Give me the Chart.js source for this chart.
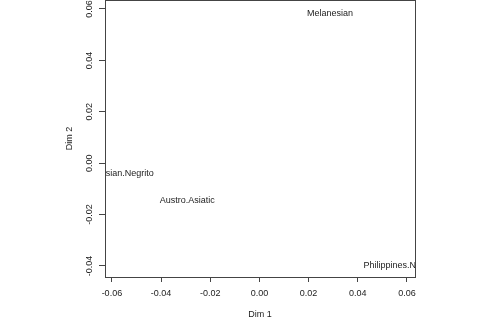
<!DOCTYPE html>
<html>
<head>
<meta charset="utf-8">
<script src="https://cdn.jsdelivr.net/npm/chart.js@4"></script>
<style>
  html, body { margin: 0; padding: 0; background: #fff; }
  #wrap { width: 480px; height: 320px; }
</style>
</head>
<body>
<div id="wrap"><canvas id="mds"></canvas></div>
<script>
// group names and their coordinates on the two dimensions
const groups = ['Melanesian', 'Malaysian.Negrito', 'Austro.Asiatic', 'Philippines.Negrito'];
const dim1 = [0.0287, -0.0576, -0.0293, 0.0576];
const dim2 = [0.0584, -0.0042, -0.0146, -0.0400];

// tick positions
const xTicks = [-0.06, -0.04, -0.02, 0.00, 0.02, 0.04, 0.06];
const yTicks = [-0.04, -0.02, 0.00, 0.02, 0.04, 0.06];

const ink = '#222';
const fontFam = '"Liberation Sans", Arial, sans-serif';

// write each group name centred on its point, clipped to the plot box
const textLabels = {
    id: 'textLabels',
    afterDatasetsDraw(chart) {
        const {ctx, chartArea, scales} = chart;
        ctx.save();
        ctx.beginPath();
        ctx.rect(chartArea.left, chartArea.top, chartArea.right - chartArea.left, chartArea.bottom - chartArea.top);
        ctx.clip();
        ctx.fillStyle = ink;
        ctx.font = '9px ' + fontFam;
        ctx.textAlign = 'center';
        ctx.textBaseline = 'middle';
        groups.forEach((g, i) => {
            ctx.fillText(g, scales.x.getPixelForValue(dim1[i]), scales.y.getPixelForValue(dim2[i]));
        });
        ctx.restore();
    }
};

// box around the plot region
const plotBox = {
    id: 'plotBox',
    afterDraw(chart) {
        const {ctx, chartArea} = chart;
        ctx.save();
        ctx.strokeStyle = '#444';
        ctx.lineWidth = 1;
        ctx.strokeRect(Math.round(chartArea.left) + 0.5, Math.round(chartArea.top) + 0.5,
            Math.round(chartArea.right - chartArea.left), Math.round(chartArea.bottom - chartArea.top));
        ctx.restore();
    }
};

const ctx = document.getElementById('mds').getContext('2d');
const chart = new Chart(ctx, {
    type: 'scatter',
    data: {
        datasets: [{
            data: dim1.map((v, i) => ({x: v, y: dim2[i]})),
            pointRadius: 0,
            pointHoverRadius: 0
        }]
    },
    options: {
        responsive: true,
        maintainAspectRatio: false,
        animation: false,
        events: [],
        layout: {padding: {left: 0, right: 65, top: 0, bottom: 0}},
        plugins: {
            legend: {display: false},
            tooltip: {enabled: false}
        },
        scales: {
            x: {
                type: 'linear',
                min: -0.0628,
                max: 0.0633,
                afterBuildTicks: s => { s.ticks = xTicks.map(v => ({value: v})); },
                afterFit: s => { s.height = 43; s.paddingLeft = 0; s.paddingRight = 0; },
                grid: {display: true, drawOnChartArea: false, tickLength: 5, color: '#444'},
                border: {display: false},
                ticks: {
                    autoSkip: false,
                    maxRotation: 0,
                    padding: 6,
                    color: ink,
                    font: {family: fontFam, size: 9},
                    callback: v => v.toFixed(2)
                },
                title: {
                    display: true,
                    text: 'Dim 1',
                    color: ink,
                    font: {family: fontFam, size: 9},
                    padding: {top: 0, bottom: 0}
                }
            },
            y: {
                type: 'linear',
                min: -0.0443,
                max: 0.0635,
                afterBuildTicks: s => { s.ticks = yTicks.map(v => ({value: v})); },
                afterFit: s => { s.width = 105; s.paddingTop = 0; s.paddingBottom = 0; },
                grid: {display: true, drawOnChartArea: false, tickLength: 6, color: '#444'},
                border: {display: false},
                ticks: {
                    autoSkip: false,
                    minRotation: 90,
                    maxRotation: 90,
                    crossAlign: 'center',
                    padding: -1,
                    color: ink,
                    font: {family: fontFam, size: 9},
                    callback: v => v.toFixed(2)
                },
                title: {
                    display: true,
                    text: 'Dim 2',
                    color: ink,
                    font: {family: fontFam, size: 9},
                    padding: {top: 64, bottom: 0}
                }
            }
        }
    },
    plugins: [textLabels, plotBox]
});
</script>
</body>
</html>
